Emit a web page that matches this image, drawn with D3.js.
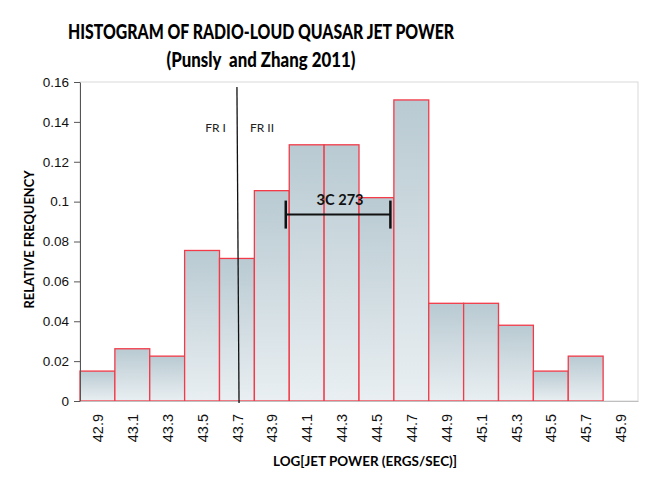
<!DOCTYPE html>
<html>
<head>
<meta charset="utf-8">
<script src="https://cdn.jsdelivr.net/npm/d3@7"></script>
<style>
  body { margin: 0; background: #fff; }
  svg { display: block; font-family: Lato, "Open Sans", sans-serif; }
</style>
</head>
<body>
<div id="chart"></div>
<script>
// bin centres (log jet power) and relative frequency
const binCenters = [42.9, 43.1, 43.3, 43.5, 43.7, 43.9, 44.1, 44.3, 44.5, 44.7, 44.9, 45.1, 45.3, 45.5, 45.7, 45.9];
const freqs = [0.015, 0.0262, 0.0225, 0.0755, 0.0715, 0.1055, 0.1285, 0.1285, 0.102, 0.151, 0.049, 0.049, 0.038, 0.015, 0.0225, 0];
const yTicks = [0, 0.02, 0.04, 0.06, 0.08, 0.1, 0.12, 0.14, 0.16];
const binWidth = 0.2;

// FR I / FR II divide and the 3C 273 range
const frLine = { x0: 43.7, x1: 43.712, yTop: 0.1575, labelY: 0.135 };
const range3C = { from: 43.98, to: 44.58, y: 0.0935, label: "3C 273" };

const width = 654, height = 479;
const margin = { top: 82, right: 16, bottom: 78, left: 80 };

const svg = d3.select("#chart").append("svg")
    .attr("width", width)
    .attr("height", height);

const x = d3.scaleLinear()
    .domain([42.8, 46.0])
    .range([margin.left, width - margin.right]);

const y = d3.scaleLinear()
    .domain([0, 0.16])
    .range([height - margin.bottom, margin.top]);

const grad = svg.append("defs").append("linearGradient")
    .attr("id", "barFill")
    .attr("x1", 0).attr("y1", 0).attr("x2", 0).attr("y2", 1);
grad.append("stop").attr("offset", "0%").attr("stop-color", "#b9cad2");
grad.append("stop").attr("offset", "100%").attr("stop-color", "#e9eff2");

// plot frame (light grey)
svg.append("rect")
    .attr("x", x(42.8))
    .attr("y", y(0.16))
    .attr("width", x(46.0) - x(42.8))
    .attr("height", y(0) - y(0.16))
    .attr("fill", "none")
    .attr("stroke", "#d9d9d9");

// bars
svg.append("g")
  .selectAll("rect")
  .data(binCenters.map((c, i) => ({ c, v: freqs[i] })).filter(d => d.v > 0))
  .join("rect")
    .attr("x", d => x(d.c - binWidth / 2))
    .attr("y", d => y(d.v))
    .attr("width", d => x(d.c + binWidth / 2) - x(d.c - binWidth / 2))
    .attr("height", d => y(0) - y(d.v))
    .attr("fill", "url(#barFill)")
    .attr("stroke", "#f23a48")
    .attr("stroke-width", 1.3);

// y axis
const yAxis = svg.append("g")
    .attr("transform", `translate(${margin.left},0)`)
    .call(d3.axisLeft(y).tickValues(yTicks).tickFormat(d3.format("~g")).tickSize(6).tickSizeOuter(0));
yAxis.select(".domain").attr("stroke", "#555");
yAxis.selectAll(".tick line").attr("stroke", "#555");
yAxis.selectAll("text")
    .attr("font-size", 13.5)
    .attr("fill", "#111")
    .attr("x", -11);

// x axis
const xAxis = svg.append("g")
    .attr("transform", `translate(0,${y(0)})`)
    .call(d3.axisBottom(x).tickValues(binCenters).tickFormat(d3.format(".1f")).tickSize(0).tickSizeOuter(0));
xAxis.select(".domain").attr("stroke", "#bfbfbf");
xAxis.selectAll("text")
    .attr("font-size", 14.5)
    .attr("fill", "#111")
    .attr("transform", "rotate(-90)")
    .attr("text-anchor", "end")
    .attr("dy", "0.35em")
    .attr("x", -13)
    .attr("y", 0);

// FR I / FR II divide
svg.append("line")
    .attr("x1", x(frLine.x0)).attr("y1", y(frLine.yTop))
    .attr("x2", x(frLine.x1)).attr("y2", y(0) + 2)
    .attr("stroke", "#111")
    .attr("stroke-width", 1.3);
svg.append("text")
    .attr("x", x(frLine.x0) - 11).attr("y", y(frLine.labelY))
    .attr("text-anchor", "end")
    .attr("font-size", 12)
    .attr("fill", "#222")
    .text("FR I");
svg.append("text")
    .attr("x", x(frLine.x0) + 13).attr("y", y(frLine.labelY))
    .attr("font-size", 12)
    .attr("fill", "#222")
    .text("FR II");

// 3C 273 range bar
const g3c = svg.append("g").attr("stroke", "#111").attr("stroke-width", 2);
g3c.append("line")
    .attr("x1", x(range3C.from)).attr("x2", x(range3C.to))
    .attr("y1", y(range3C.y)).attr("y2", y(range3C.y));
[range3C.from, range3C.to].forEach(v => {
  g3c.append("line")
      .attr("x1", x(v)).attr("x2", x(v))
      .attr("y1", y(range3C.y) - 14).attr("y2", y(range3C.y) + 14)
      .attr("stroke-width", 2.5);
});
svg.append("text")
    .attr("x", (x(range3C.from) + x(range3C.to)) / 2 + 2)
    .attr("y", y(range3C.y) - 10)
    .attr("text-anchor", "middle")
    .attr("font-size", 15.5)
    .attr("font-weight", "bold")
    .attr("fill", "#111")
    .attr("textLength", 47)
    .attr("lengthAdjust", "spacingAndGlyphs")
    .text(range3C.label);

// titles
svg.append("text")
    .attr("x", 261).attr("y", 39)
    .attr("text-anchor", "middle")
    .attr("font-size", 21)
    .attr("font-weight", 900)
    .attr("textLength", 386)
    .attr("lengthAdjust", "spacingAndGlyphs")
    .text("HISTOGRAM OF RADIO-LOUD QUASAR JET POWER");
svg.append("text")
    .attr("x", 261).attr("y", 67)
    .attr("text-anchor", "middle")
    .attr("font-size", 21)
    .attr("font-weight", 900)
    .attr("textLength", 189)
    .attr("lengthAdjust", "spacingAndGlyphs")
    .style("white-space", "pre")
    .text("(Punsly  and Zhang 2011)");

svg.append("text")
    .attr("transform", `translate(29,${(y(0) + y(0.16)) / 2 - 2}) rotate(-90)`)
    .attr("text-anchor", "middle")
    .attr("dy", "0.35em")
    .attr("font-size", 13)
    .attr("font-weight", "bold")
    .attr("textLength", 138)
    .attr("lengthAdjust", "spacingAndGlyphs")
    .text("RELATIVE FREQUENCY");

svg.append("text")
    .attr("x", 365).attr("y", 466)
    .attr("text-anchor", "middle")
    .attr("font-size", 13.5)
    .attr("font-weight", "bold")
    .attr("textLength", 184)
    .attr("lengthAdjust", "spacingAndGlyphs")
    .text("LOG[JET POWER (ERGS/SEC)]");
</script>
</body>
</html>
